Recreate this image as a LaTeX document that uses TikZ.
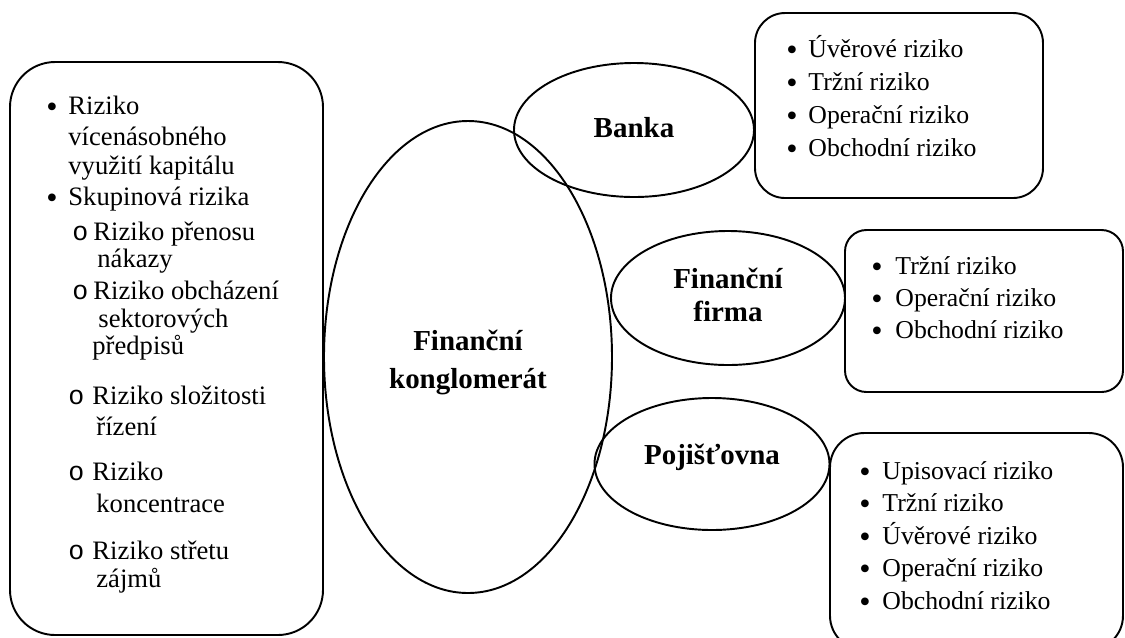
\documentclass[tikz,border=0pt]{standalone}
\usepackage{fontspec}
\setmainfont{Liberation Serif}
\newfontfamily\courfont{Liberation Mono}
\usetikzlibrary{shapes.geometric}

\newcommand{\bigdot}{{\fontsize{15}{15}\selectfont\raisebox{-1.6pt}{\textbullet}}}

\tikzset{
  hub/.style={draw, ellipse, line width=0.9pt, inner sep=0pt, align=center,
    font=\fontsize{13.5}{15.5}\selectfont\bfseries},
  riskbox/.style={draw, line width=0.9pt, inner sep=0pt},
  item/.style={anchor=base west, inner sep=0pt, font=\fontsize{12}{14}\selectfont},
  subitem/.style={item, font=\fontsize{12.4}{14}\selectfont},
}

\begin{document}
\begin{tikzpicture}[x=0.466pt, y=-0.466pt]
    \useasboundingbox (0,0) rectangle (1125,637);
    % boxes
    \node[riskbox, rounded corners=21pt, minimum width=313*0.466pt, minimum height=573*0.466pt] (skupbox) at (166.5,348.5) {};
    \node[riskbox, rounded corners=14pt, minimum width=288*0.466pt, minimum height=185*0.466pt] (bankbox) at (899,105.5) {};
    \node[riskbox, rounded corners=10pt, minimum width=278*0.466pt, minimum height=162*0.466pt] (firmbox) at (984,311) {};
    \node[riskbox, rounded corners=16pt, minimum width=293*0.466pt, minimum height=217*0.466pt] (pojbox) at (976.5,541.5) {};
    % ellipses
    \node[hub, minimum width=288*0.466pt, minimum height=472*0.466pt] (konglo) at (468,357) {\raisebox{-6.4pt}[0pt][0pt]{\begin{tabular}{@{}c@{}}Finanční\\[2.5pt]konglomerát\end{tabular}}};
    \node[hub, minimum width=240*0.466pt, minimum height=134*0.466pt] (banka) at (634,130) {\raisebox{2pt}{Banka}};
    \node[hub, minimum width=234*0.466pt, minimum height=134*0.466pt] (firma) at (728,298) {\raisebox{2pt}{\begin{tabular}{@{}c@{}}Finanční\\firma\end{tabular}}};
    \node[hub, minimum width=235*0.466pt, minimum height=132*0.466pt] (pojist) at (712,464) {\raisebox{9pt}{Pojišťovna}};
    % lists
    \foreach \t [count=\i] in {Úvěrové riziko, Tržní riziko, Operační riziko, Obchodní riziko} {
      \node[item] (bankdot\i) at (786,24+33*\i) {\bigdot};
      \node[item] (bankitem\i) at (808,24+33*\i) {\t};
    }
    \foreach \t [count=\i] in {Tržní riziko, Operační riziko, Obchodní riziko} {
      \node[item] (firmdot\i) at (871,242+32*\i) {\bigdot};
      \node[item] (firmitem\i) at (895,242+32*\i) {\t};
    }
    \foreach \t [count=\i] in {Upisovací riziko, Tržní riziko, Úvěrové riziko, Operační riziko, Obchodní riziko} {
      \node[item] (pojdot\i) at (859,446.5+32.5*\i) {\bigdot};
      \node[item] (pojitem\i) at (882,446.5+32.5*\i) {\t};
    }
    \node[subitem] (skupdot1) at (46,114) {\bigdot};
    \node[subitem] (skupdot2) at (46,205) {\bigdot};
    \foreach \x/\y [count=\i] in {72/240, 72/299, 68/404, 68/480, 68/559}
      \node[subitem] (skupo\i) at (\x,\y) {\courfont o};
    \foreach \x/\y/\t [count=\i] in {68/114/Riziko, 68/145/vícenásobného, 68/174/využití kapitálu,
        68/205/Skupinová rizika, 93/240/Riziko přenosu, 97/267/nákazy, 93/299/Riziko obcházení,
        98/327/sektorových, 92/354/předpisů, 92/404/Riziko složitosti, 96/435/řízení,
        92/480/Riziko, 96/512/koncentrace, 92/559/Riziko střetu, 96/587/zájmů}
      \node[subitem] (skupitem\i) at (\x,\y) {\t};
\end{tikzpicture}
\end{document}
